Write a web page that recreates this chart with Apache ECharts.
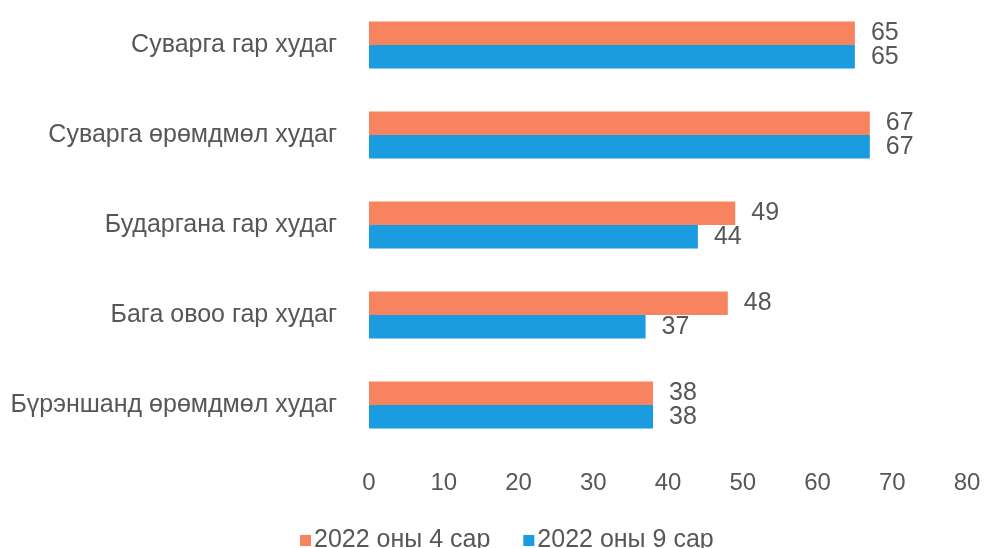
<!DOCTYPE html>
<html><head><meta charset="utf-8">
<script src="https://cdn.jsdelivr.net/npm/echarts@6/dist/echarts.min.js"></script>
<style>html,body{margin:0;padding:0;background:#fff}#c{width:986px;height:548px}</style>
</head><body><div id="c"></div>
<script>
const categories = ['Суварга гар худаг','Суварга өрөмдмөл худаг','Бударгана гар худаг','Бага овоо гар худаг','Бүрэншанд өрөмдмөл худаг'];
const seriesNames = ['2022 оны 4 сар','2022 оны 9 сар'];
const april = [65, 67, 49, 48, 38];
const september = [65, 67, 44, 37, 38];
const xTicks = {min: 0, max: 80, interval: 10};

const txt = '#575757';
const font = 'Liberation Sans, Arial, sans-serif';
const chart = echarts.init(document.getElementById('c'));
const labelCfg = {show: true, position: 'right', distance: 16, color: txt, fontSize: 25, fontFamily: font};
chart.setOption({
  animation: false,
  grid: {left: 369, right: 19, top: 0, bottom: 98},
  legend: {
    data: seriesNames, left: 295, top: 523, itemWidth: 11, itemHeight: 11, itemGap: 33,
    icon: 'rect', textStyle: {color: txt, fontSize: 25, fontFamily: font, padding: [0, 0, 0, -2]}
  },
  xAxis: {
    type: 'value', min: xTicks.min, max: xTicks.max, interval: xTicks.interval,
    axisLine: {show: false}, axisTick: {show: false}, splitLine: {show: false},
    axisLabel: {color: txt, fontSize: 24, fontFamily: font, margin: 21}
  },
  yAxis: {
    type: 'category', data: categories, inverse: true,
    axisLine: {show: false}, axisTick: {show: false},
    axisLabel: {color: txt, fontSize: 25, fontFamily: font, margin: 32}
  },
  series: [
    {name: seriesNames[0], type: 'bar', data: april, barWidth: 23.5, barGap: '0%', itemStyle: {color: '#F7845F'}, label: labelCfg},
    {name: seriesNames[1], type: 'bar', data: september, barWidth: 23.5, barGap: '0%', itemStyle: {color: '#1B9BE0'}, label: labelCfg}
  ]
});
</script></body></html>
